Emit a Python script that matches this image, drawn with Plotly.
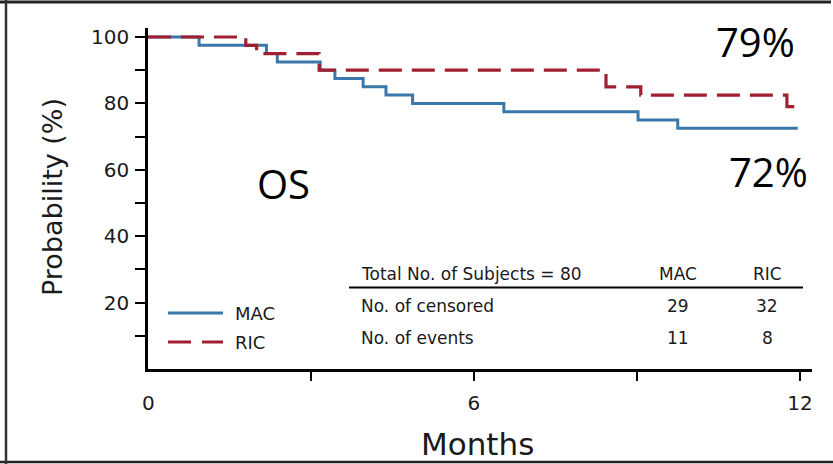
import plotly.graph_objects as go

# ---- data ----
mac_time = [0, 0.94, 2.18, 2.38, 3.17, 3.44, 3.96, 4.38, 4.87, 6.55, 9.02, 9.75, 11.96]
mac_surv = [100, 97.5, 95, 92.5, 90, 87.5, 85, 82.5, 80, 77.5, 75, 72.5, 72.5]
ric_time = [0, 1.80, 2.00, 3.15, 8.43, 9.07, 11.76, 11.98]
ric_surv = [100, 97.5, 95, 90, 85, 82.5, 79, 79]

x_tickvals = [3, 6, 9, 12]
x_ticktext = ["", "6", "", "12"]
y_tickvals = [10, 20, 30, 40, 50, 60, 70, 80, 90, 100]
y_ticktext = ["", "20", "", "40", "", "60", "", "80", "", "100"]

table_header = ["Total No. of Subjects = 80", "MAC", "RIC"]
table_rows = ["No. of censored", "No. of events"]
censored = [29, 32]
events = [11, 8]

ric_label, mac_label = "79%", "72%"
W, H = 833, 464
L, R, T, B = 148, 21, 28, 95
PW, PH = W - L - R, H - T - B
X_PER_MONTH = 54.33
Y_PER_PCT = 3.32

BLUE = "#3a78ab"
RED = "#a11f31"
INK = "#1a1a1a"


def px(xp):
    return (xp - L) / PW


def py(yp):
    return (H - B - yp) / PH


def text(xp, yp, s, font, xanchor="center", angle=0):
    return dict(x=px(xp), y=py(yp), xref="paper", yref="paper", text=s, showarrow=False,
                font=font, xanchor=xanchor, yanchor="middle", textangle=angle)


fig = go.Figure()
fig.add_trace(go.Scatter(x=mac_time, y=mac_surv, mode="lines", line_shape="hv",
                         line=dict(color=BLUE, width=3), name="MAC", showlegend=False))
fig.add_trace(go.Scatter(x=ric_time, y=ric_surv, mode="lines", line_shape="hv",
                         line=dict(color=RED, width=3.2, dash="23px,10px"), name="RIC",
                         showlegend=False))

tickfont = dict(family="DejaVu Sans", size=20, color=INK)
fig.update_xaxes(range=[0, PW / X_PER_MONTH], showline=True, linecolor="black", linewidth=2.5,
                 ticks="outside", ticklen=9, tickwidth=2, tickcolor="black",
                 tickvals=x_tickvals, ticktext=x_ticktext, tickfont=tickfont,
                 ticklabelstandoff=5, showgrid=False, zeroline=False)
fig.update_yaxes(range=[0, PH / Y_PER_PCT], showline=True, linecolor="black", linewidth=2.5,
                 ticks="outside", ticklen=10, tickwidth=2, tickcolor="black",
                 tickvals=y_tickvals, ticktext=y_ticktext, tickfont=tickfont,
                 ticklabelstandoff=2, showgrid=False, zeroline=False)

ann = []
ann.append(dict(x=0, y=py(403), xref="x", yref="paper", text="0", showarrow=False,
                font=tickfont, xanchor="center", yanchor="middle"))
ann.append(text(52, 197, "Probability (%)", dict(family="DejaVu Sans", size=27, color=INK), angle=-90))
ann.append(text(477, 444, "Months", dict(family="DejaVu Sans", size=31, color=INK)))

big = dict(family="Open Sans", size=40, color="black")
ann.append(text(755, 42, ric_label, big))
ann.append(text(768, 171, mac_label, big))
ann.append(text(283, 183, "OS", big))

legfont = dict(family="DejaVu Sans", size=18, color=INK)
ann.append(text(233, 313, "MAC", legfont, xanchor="left"))
ann.append(text(233, 342, "RIC", legfont, xanchor="left"))

tfont = dict(family="DejaVu Sans", size=17, color=INK)
ann.append(text(359, 274, table_header[0], tfont, xanchor="left"))
ann.append(text(678, 274, table_header[1], tfont))
ann.append(text(767, 274, table_header[2], tfont))
row_y = [306, 338]
row_vals = [censored, events]
for lab, yy, vals in zip(table_rows, row_y, row_vals):
    ann.append(text(359, yy, lab, tfont, xanchor="left"))
    ann.append(text(678, yy, str(vals[0]), tfont))
    ann.append(text(767, yy, str(vals[1]), tfont))

shapes = [
    dict(type="line", xref="paper", yref="paper", x0=px(349), x1=px(803), y0=py(287.5), y1=py(287.5),
         line=dict(color="black", width=2)),
    dict(type="line", xref="paper", yref="paper", x0=px(168), x1=px(223), y0=py(313), y1=py(313),
         line=dict(color=BLUE, width=3)),
    dict(type="line", xref="paper", yref="paper", x0=px(168), x1=px(223), y0=py(342), y1=py(342),
         line=dict(color=RED, width=3.2, dash="23px,11px")),
    # image border
    dict(type="line", xref="paper", yref="paper", x0=px(0), x1=px(831), y0=py(2), y1=py(2),
         line=dict(color="#222222", width=3)),
    dict(type="line", xref="paper", yref="paper", x0=px(0), x1=px(833), y0=py(462), y1=py(462),
         line=dict(color="#222222", width=2.5)),
    dict(type="line", xref="paper", yref="paper", x0=px(6), x1=px(6), y0=py(0), y1=py(464),
         line=dict(color="#333333", width=2.5)),
]

fig.update_layout(width=W, height=H, margin=dict(l=L, r=R, t=T, b=B, autoexpand=False),
                  plot_bgcolor="white", paper_bgcolor="white",
                  annotations=ann, shapes=shapes, showlegend=False)

fig.write_html("out.html", config={"displayModeBar": False},
               post_script="document.body.style.margin='0';document.body.style.overflow='hidden';")
